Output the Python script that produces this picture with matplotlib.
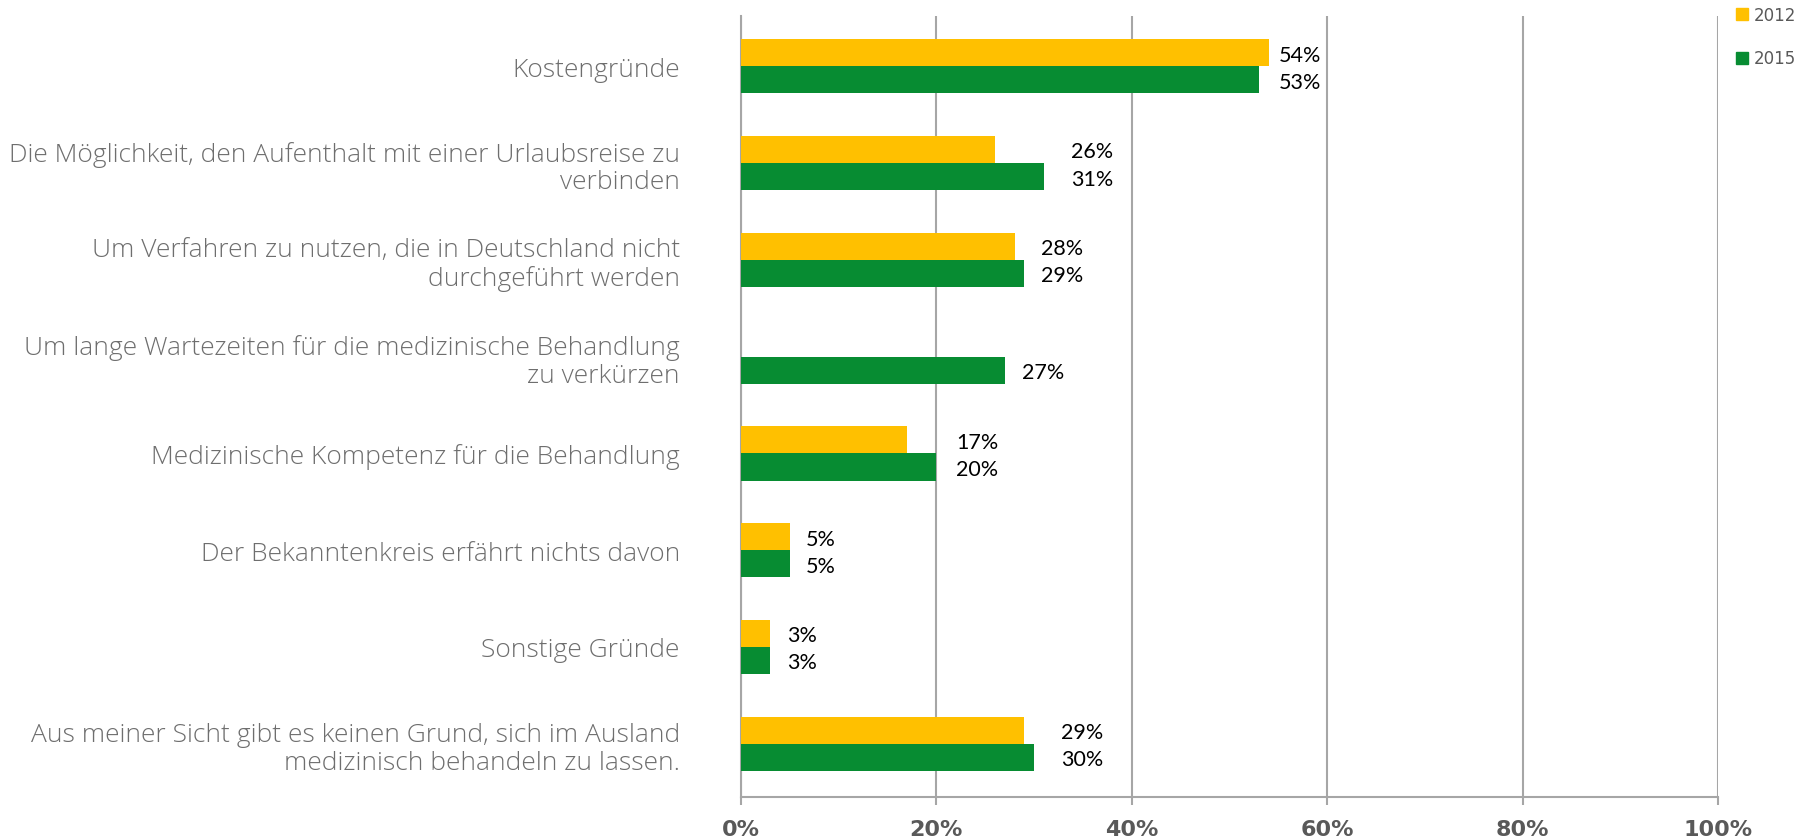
import numpy as np
import matplotlib.pyplot as plt
from matplotlib.lines import Line2D

# Daten
kategorien = [
    "Kostengründe",
    "Die Möglichkeit, den Aufenthalt mit einer Urlaubsreise zu\nverbinden",
    "Um Verfahren zu nutzen, die in Deutschland nicht\ndurchgeführt werden",
    "Um lange Wartezeiten für die medizinische Behandlung\nzu verkürzen",
    "Medizinische Kompetenz für die Behandlung",
    "Der Bekanntenkreis erfährt nichts davon",
    "Sonstige Gründe",
    "Aus meiner Sicht gibt es keinen Grund, sich im Ausland\nmedizinisch behandeln zu lassen.",
]
werte_2012 = [54, 26, 28, None, 17, 5, 3, 29]
werte_2015 = [53, 31, 29, 27, 20, 5, 3, 30]
jahre = ["2012", "2015"]
x_ticks = [0, 20, 40, 60, 80, 100]

# Abstand der Datenbeschriftung hinter dem längsten Balken (in %-Punkten)
label_pad = [1.0, 2.8, 1.7, 1.8, 2.0, 1.65, 1.7, 2.75]

gelb = "#FFC000"
gruen = "#078C32"
grau = "#A6A6A6"

fig = plt.figure(figsize=(18.13, 8.37), dpi=100)
ax = fig.add_axes([0.4087, 0.0466, 0.9476 - 0.4087, 0.9797 - 0.0466])

y = np.arange(len(kategorien))
h = 0.28
v12 = np.array([np.nan if v is None else v for v in werte_2012], dtype=float)
v15 = np.array(werte_2015, dtype=float)

ax.barh(y - h / 2, np.nan_to_num(v12), height=h, color=gelb, zorder=3)
ax.barh(y + h / 2, v15, height=h, color=gruen, zorder=3)

# Datenbeschriftung
for i in range(len(kategorien)):
    xpos = np.nanmax([v12[i], v15[i]]) + label_pad[i]
    if not np.isnan(v12[i]):
        ax.text(xpos, y[i] - h / 2 + 0.02, f"{int(v12[i])}%", va="center", ha="left",
                fontsize=15.5, family="Lato", color="black", zorder=4)
    ax.text(xpos, y[i] + h / 2 + 0.02, f"{int(v15[i])}%", va="center", ha="left",
            fontsize=15.5, family="Lato", color="black", zorder=4)

ax.set_xlim(0, 100)
ax.set_ylim(7.55, -0.52)
ax.set_xticks(x_ticks)
ax.set_xticklabels([f"{t}%" for t in x_ticks], fontsize=16, fontweight="bold",
                   color="#595959", family=["Liberation Sans Narrow", "DejaVu Sans"])
ax.set_yticks(y)
ax.set_yticklabels(kategorien, fontsize=19, color="#6E6E6E",
                   family="Open Sans", fontweight="light", linespacing=1.15)
for lab in ax.get_yticklabels():
    lab.set_multialignment("right")
ax.tick_params(axis="y", length=0, pad=44)
ax.tick_params(axis="x", length=6, width=1.5, color=grau, pad=10)

ax.grid(axis="x", color=grau, linewidth=1.5, zorder=0)
for s in ["top", "right"]:
    ax.spines[s].set_visible(False)
ax.spines["left"].set_color(grau)
ax.spines["left"].set_linewidth(1.5)
ax.spines["bottom"].set_color(grau)
ax.spines["bottom"].set_linewidth(1.5)

# Legende
handles = [Line2D([], [], marker="s", linestyle="none", color=gelb, markersize=8),
           Line2D([], [], marker="s", linestyle="none", color=gruen, markersize=8)]
leg = fig.legend(handles, jahre, loc="upper left", bbox_to_anchor=(0.949, 1.01),
                 frameon=False, fontsize=12, handletextpad=0.3, labelspacing=1.55,
                 handlelength=0.8)
for t in leg.get_texts():
    t.set_color("#595959")

fig.savefig("out.png", dpi=100)
